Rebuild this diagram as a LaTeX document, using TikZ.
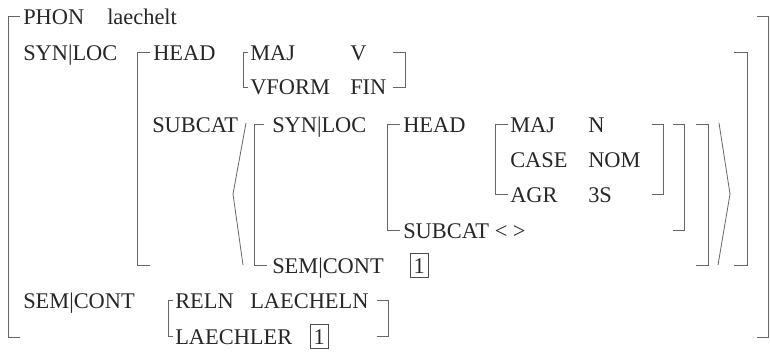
\documentclass[tikz,border=0pt]{standalone}
\usepackage{fontspec}
\setmainfont{Liberation Serif}
\begin{document}
\begin{tikzpicture}[x=0.75pt, y=-0.75pt,
    feat/.style={anchor=base west, inner sep=0pt, font=\fontsize{16.8}{20}\selectfont, text=black!85},
    brack/.style={draw=black!60, line width=0.6pt},
    tag/.style={draw=black!70, line width=0.5pt, anchor=base west, inner sep=0pt,
        minimum width=13.5pt, minimum height=18pt, font=\fontsize{16.8}{20}\selectfont, text=black!85}]
    \useasboundingbox (0,0) rectangle (770,351);

    % Outer matrix
    \draw[brack] (20,16) -- (8,16) -- (8,337) -- (20,337);
    \draw[brack] (757,16) -- (768,16) -- (768,337) -- (757,337);
    \node[feat] (phon) at (23,24) {PHON};
    \node[feat] (phonval) at (107,24) {laechelt};
    \node[feat] (synloc) at (23,60) {SYN|LOC};
    \node[feat] (semcont) at (23,308) {SEM|CONT};

    % Value of SYN|LOC
    \draw[brack] (150,52) -- (137,52) -- (137,265) -- (150,265);
    \draw[brack] (734,52) -- (747,52) -- (747,265) -- (734,265);
    \node[feat] (head) at (153,60) {HEAD};
    \node[feat] (subcat) at (152,132) {SUBCAT};

    % Value of HEAD
    \draw[brack] (248,52) -- (243,52) -- (243,87) -- (248,87);
    \draw[brack] (393,52) -- (405,52) -- (405,87) -- (393,87);
    \node[feat] (maj) at (250,60) {MAJ};
    \node[feat] (majval) at (350,60) {V};
    \node[feat] (vform) at (250,94) {VFORM};
    \node[feat] (vformval) at (350,94) {FIN};

    % SUBCAT list with angle brackets
    \draw[brack] (246,123) -- (233,194) -- (243,265);
    \draw[brack] (719,123) -- (730,194) -- (718,265);
    \draw[brack] (264,124) -- (254,124) -- (254,265) -- (267,265);
    \draw[brack] (696,124) -- (708,124) -- (708,265) -- (696,265);
    \node[feat] (argsynloc) at (272,132) {SYN|LOC};
    \node[feat] (argsemcont) at (272,273) {SEM|CONT};
    \node[tag] (argtag) at (410,273) {1};

    % Value of the argument's SYN|LOC
    \draw[brack] (400,124) -- (387,124) -- (387,230) -- (400,230);
    \draw[brack] (673,124) -- (684,124) -- (684,230) -- (673,230);
    \node[feat] (arghead) at (403,132) {HEAD};
    \node[feat] (argsubcat) at (403,238) {SUBCAT < >};

    % Value of the argument's HEAD
    \draw[brack] (508,124) -- (495,124) -- (495,194) -- (508,194);
    \draw[brack] (652,124) -- (663,124) -- (663,194) -- (652,194);
    \node[feat] (argmaj) at (510,132) {MAJ};
    \node[feat] (argmajval) at (588,132) {N};
    \node[feat] (argcase) at (510,167) {CASE};
    \node[feat] (argcaseval) at (588,167) {NOM};
    \node[feat] (argagr) at (510,202) {AGR};
    \node[feat] (argagrval) at (588,202) {3S};

    % Value of SEM|CONT
    \draw[brack] (173,300) -- (168,300) -- (168,336) -- (173,336);
    \draw[brack] (377,300) -- (388,300) -- (388,336) -- (377,336);
    \node[feat] (reln) at (175,308) {RELN};
    \node[feat] (relnval) at (250,308) {LAECHELN};
    \node[feat] (laechler) at (175,344) {LAECHLER};
    \node[tag] (laechlertag) at (310,344) {1};
\end{tikzpicture}
\end{document}
